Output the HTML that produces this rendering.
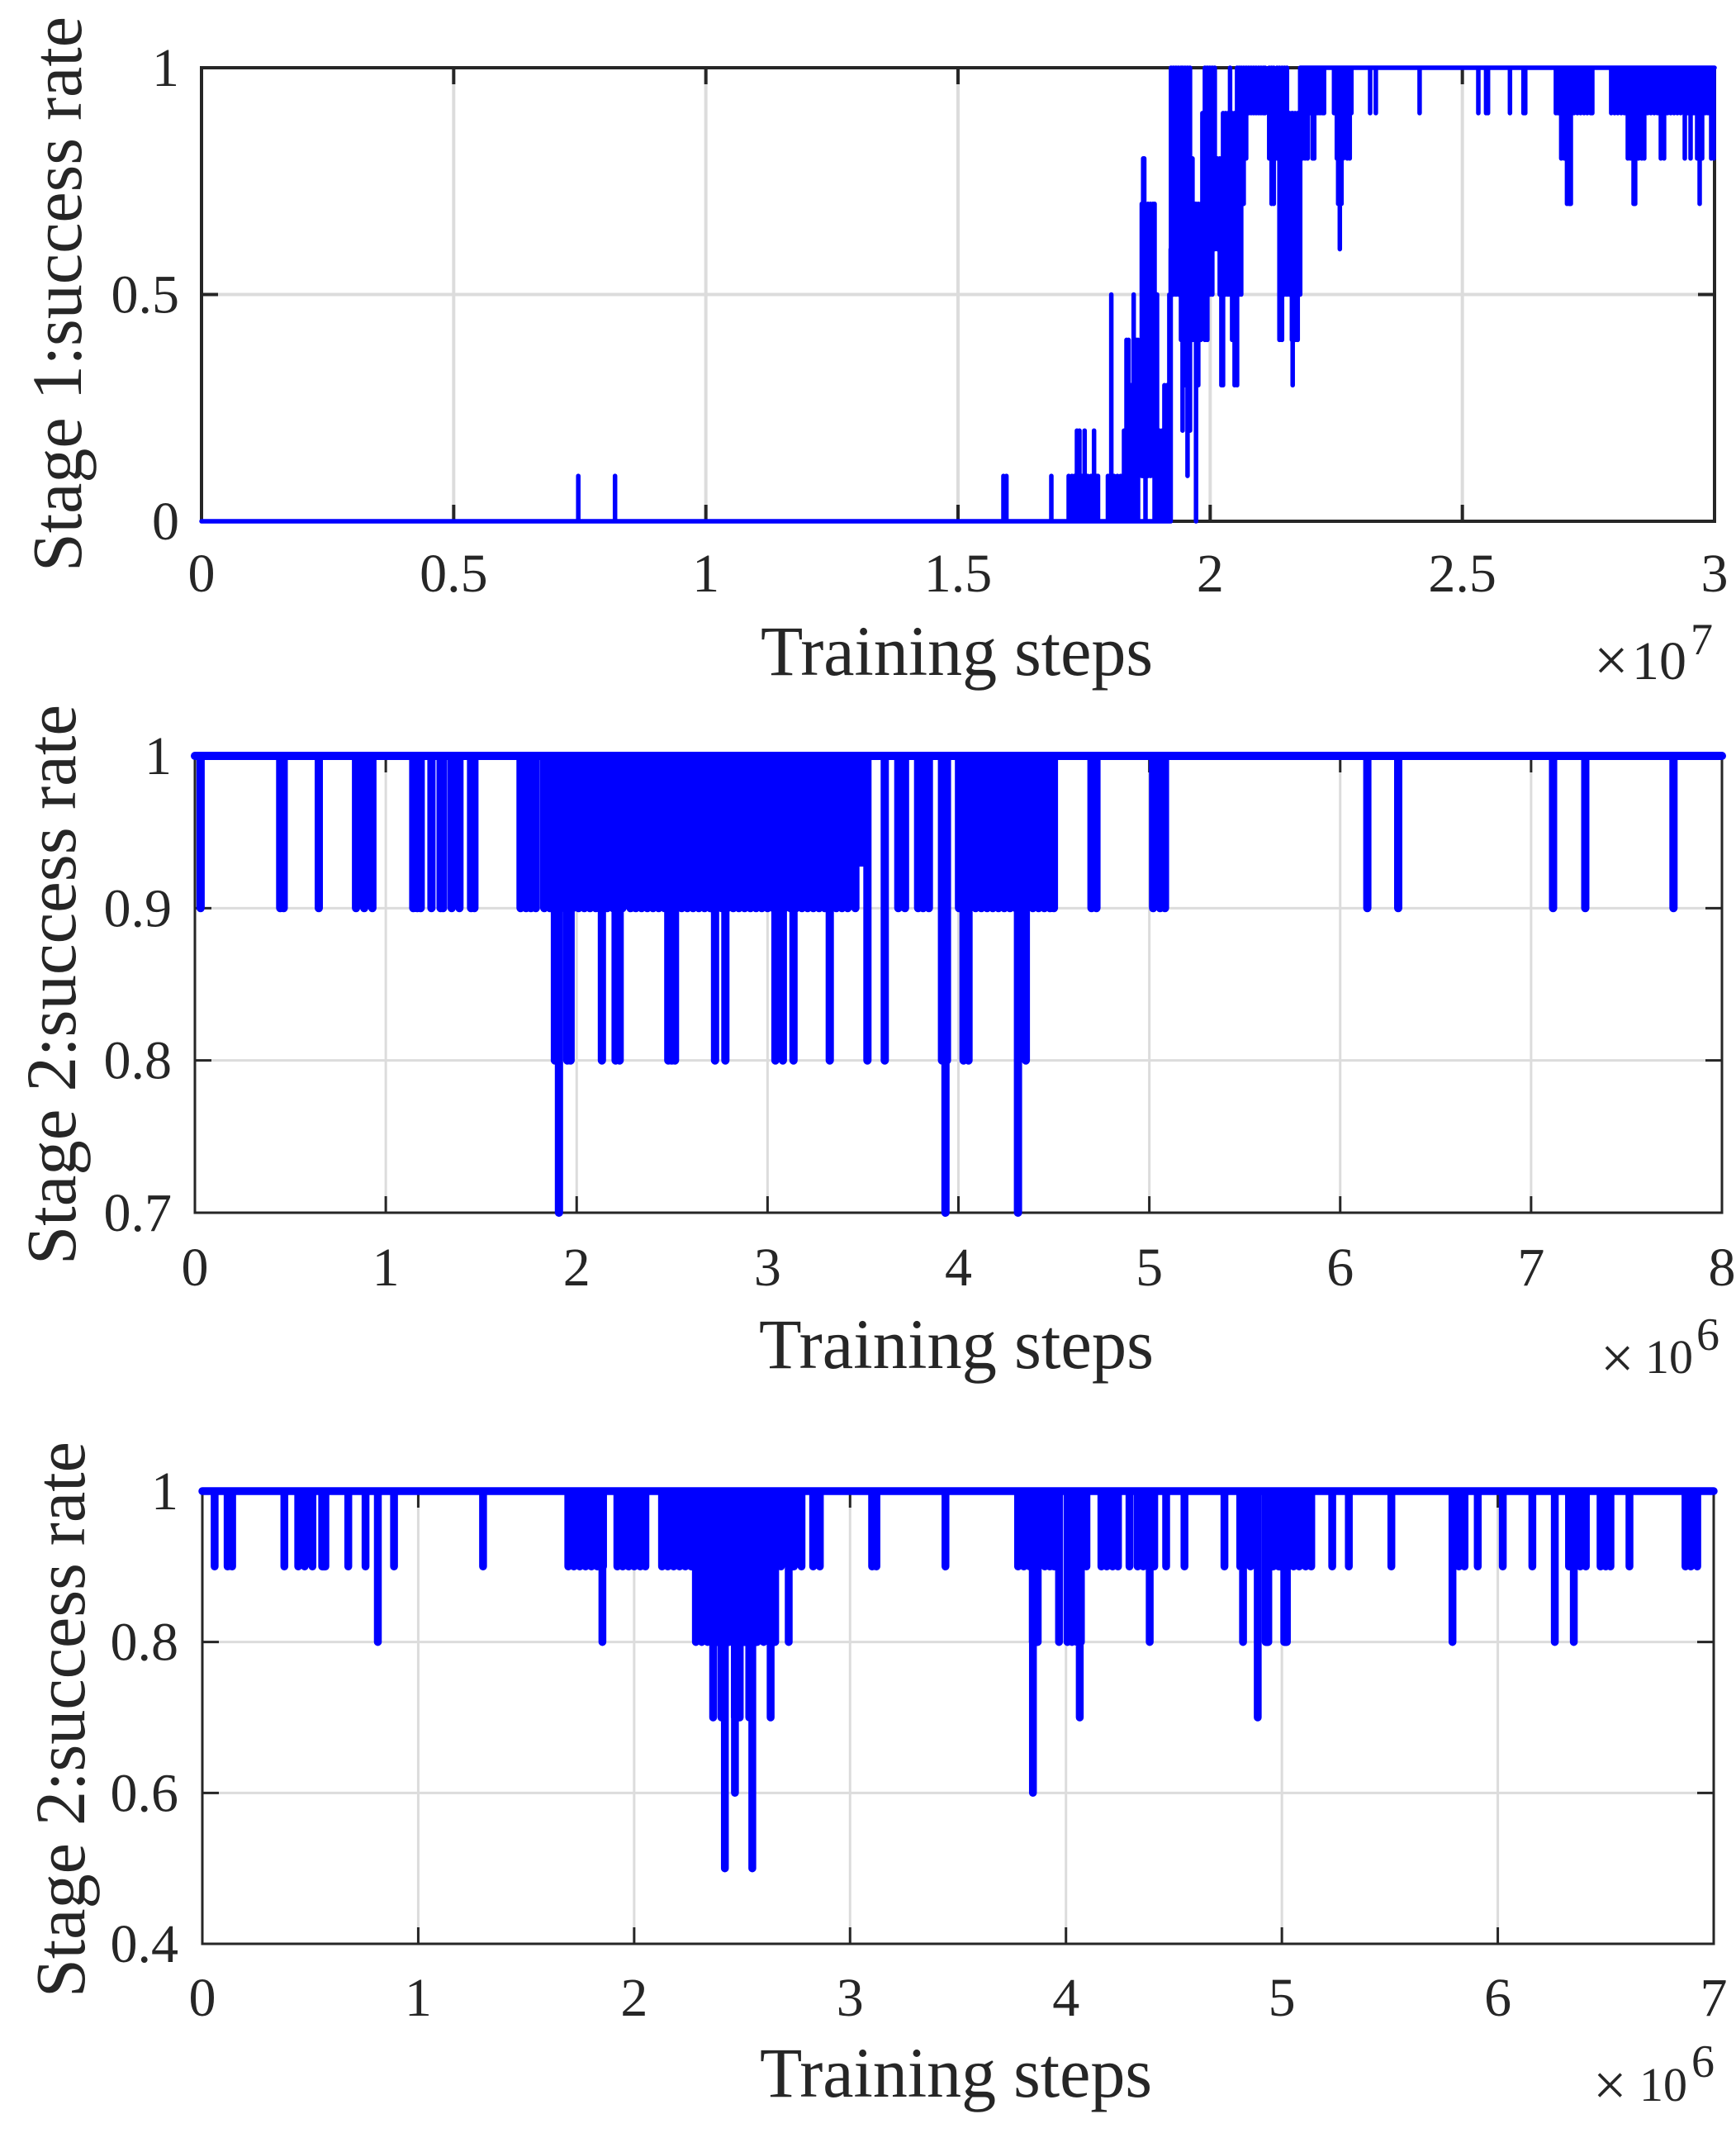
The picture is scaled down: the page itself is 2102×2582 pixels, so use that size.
<!DOCTYPE html>
<html lang="en">
<head>
<meta charset="utf-8">
<title>Stage success rate versus training steps</title>
<style>
  html, body { margin: 0; padding: 0; background: #ffffff; }
  svg { display: block; }
  text { font-family: "Liberation Serif", "Times New Roman", serif; fill: #262626; }
  .axis-title { font-size: 86px; }
  .tick-label { font-size: 66px; }
</style>
</head>
<body>
<svg id="figure" xmlns="http://www.w3.org/2000/svg" width="2102" height="2582" viewBox="0 0 2102 2582">
  <rect x="0" y="0" width="2102" height="2582" fill="#ffffff"/>

  <g id="panel-1"></g>
  <g id="panel-2"></g>
  <g id="panel-3"></g>

  <text class="axis-title" transform="translate(98,692) rotate(-90)" textLength="672" lengthAdjust="spacingAndGlyphs">Stage 1:success rate</text>
  <text class="axis-title" x="921" y="817" textLength="475" lengthAdjust="spacingAndGlyphs">Training steps</text>
  <text x="1930" y="824" font-size="74">×</text>
  <text x="1976" y="822" font-size="66">10</text>
  <text x="2047" y="792" font-size="54">7</text>

  <text class="axis-title" transform="translate(91,1531) rotate(-90)" textLength="678" lengthAdjust="spacingAndGlyphs">Stage 2:success rate</text>
  <text class="axis-title" x="919" y="1656" textLength="478" lengthAdjust="spacingAndGlyphs">Training steps</text>
  <text x="1938" y="1668" font-size="72">×</text>
  <text x="1992" y="1662" font-size="58">10</text>
  <text x="2054" y="1634" font-size="56">6</text>

  <text class="axis-title" transform="translate(102,2418) rotate(-90)" textLength="673" lengthAdjust="spacingAndGlyphs">Stage 2:success rate</text>
  <text class="axis-title" x="920" y="2538" textLength="475" lengthAdjust="spacingAndGlyphs">Training steps</text>
  <text x="1929" y="2548" font-size="72">×</text>
  <text x="1985" y="2543" font-size="58">10</text>
  <text x="2048" y="2514" font-size="56">6</text>
</svg>

<script>
// ---------- Chart 1: Stage 1 success rate (steps in units of 1e7) ----------
const chart1XTicks = [0, 0.5, 1, 1.5, 2, 2.5, 3];
const chart1XLabels = ['0', '0.5', '1', '1.5', '2', '2.5', '3'];
const chart1YTicks = [0, 0.5, 1];
const chart1YLabels = ['0', '0.5', '1'];
const chart1BaseFrom = [0, 2.18];
const chart1BaseTo = [1.92, 3];
const chart1BaseRate = [0, 1];
const chart1Steps = [
  0.747,0.82,1.59,1.596,1.685,
  1.7194,1.7259,1.7309,1.7358,1.7407,1.7456,1.751,1.7571,1.7636,1.7697,1.7751,1.7776,
  1.7972,1.804,1.8094,1.816,1.8225,1.8291,1.834,1.8381,1.8438,1.8483,1.8537,1.857,
  1.8643,1.8672,1.8692,1.8717,1.8766,1.8815,1.8864,1.8897,1.8946,1.8995,1.9044,1.9093,1.9142,1.9191,1.9216,
  1.9224,1.9273,1.9322,1.9371,1.9421,1.9453,1.9502,1.9551,1.96,1.9649,1.9698,1.972,
  1.9763,1.9813,1.9845,1.9894,1.9944,1.9993,2.0042,2.0091,2.014,2.0189,2.0222,2.0255,
  2.0304,2.0353,2.0394,2.0435,2.0484,2.0533,2.0574,2.0615,2.0664,2.0713,2.0762,2.0812,
  2.0861,2.091,2.0959,2.1008,2.1057,2.109,2.1171,2.1218,2.126,2.1325,2.1374,2.1424,
  2.1473,2.1522,2.1571,2.162,2.1636,2.1685,2.1735,2.1784,2.1833,2.1882,2.1931,2.1981,
  2.203,2.2062,2.2128,2.2177,2.2226,2.2258,2.2455,2.2512,2.2537,2.257,2.2603,2.2636,
  2.2668,2.2717,2.2767,2.28,2.3171,2.3285,2.4153,2.5316,2.547,
  2.5509,2.5943,2.6213,2.6246,2.6855,2.6904,2.6961,2.7019,2.7076,
  2.7117,2.715,2.7215,2.7281,2.7346,2.7412,2.7477,2.7543,2.7576,2.7952,2.8018,2.8083,
  2.8149,2.8214,2.828,2.8329,2.8395,2.8427,2.8493,2.8558,2.8607,2.8673,2.8738,2.8804,
  2.8869,2.8935,2.9,2.9066,2.9132,2.9197,2.9263,2.9328,2.941,2.9467,2.9525,2.959,
  2.9656,2.9705,2.9754,2.9819,2.9869,2.9934,2.9983
];
const chart1Lows = [
  0,0,0,0,0,
  0,0,0,0,0,0,0,0,0,0,0,0,
  0,0,0,0,0,0,0,0,0,0,0,0,
  .1,.1,.1,0,.1,.1,.1,0,0,0,0,0,0,0,0,
  .5,.5,.5,.5,.4,.2,.3,.1,.2,.4,.4,0,
  .3,.4,.5,.4,.4,.5,.5,.6,.6,.5,.3,.3,
  .5,.5,.5,.4,.3,.3,.5,.5,.7,.8,.9,.9,
  .9,.9,.9,.9,.9,.9,.8,.7,.7,.8,.4,.4,
  .5,.5,.5,.4,.3,.4,.4,.5,.8,.8,.8,.9,
  .8,.8,.9,.9,.9,.9,.9,.8,.7,.6,.7,.8,
  .9,.8,.8,.9,.9,.9,.9,.9,.9,
  .9,.9,.9,.9,.9,.9,.8,.8,.7,
  .7,.7,.9,.9,.9,.9,.9,.9,.9,.9,.9,.9,
  .9,.9,.8,.8,.7,.7,.8,.8,.8,.9,.9,.9,
  .9,.8,.8,.9,.9,.9,.9,.9,.8,.9,.8,.9,
  .8,.7,.8,.9,.9,.8,.8
];
const chart1Highs = [
  .1,.1,.1,.1,.1,
  .1,.1,.1,.2,.2,.1,.2,.1,.1,.2,.1,.1,
  .1,.5,.1,.1,.1,.2,.4,.4,.3,.5,.4,.4,
  .7,.8,.8,.7,.7,.7,.7,.7,.5,.2,.2,.3,.3,.5,.6,
  1,1,1,1,1,1,1,1,1,.8,.7,.7,
  .7,.7,.9,1,1,1,1,1,.8,.8,.8,.9,
  .9,.9,1,.9,.9,1,1,1,1,1,1,1,
  1,1,1,1,1,1,1,1,1,1,1,1,
  1,1,.9,.9,.9,.9,.9,1,1,1,1,1,
  1,1,1,1,1,1,1,1,1,1,1,1,
  1,1,1,1,1,1,1,1,1,
  1,1,1,1,1,1,1,1,1,
  1,1,1,1,1,1,1,1,1,1,1,1,
  1,1,1,1,1,1,1,1,1,1,1,1,
  1,1,1,1,1,1,1,1,1,1,1,1,
  1,1,1,1,1,1,1
];

// ---------- Chart 2: Stage 2 success rate, upper panel (steps in units of 1e6) ----------
const chart2XTicks = [0, 1, 2, 3, 4, 5, 6, 7, 8];
const chart2XLabels = ['0', '1', '2', '3', '4', '5', '6', '7', '8'];
const chart2YTicks = [0.7, 0.8, 0.9, 1];
const chart2YLabels = ['0.7', '0.8', '0.9', '1'];
const chart2BaseFrom = [0];
const chart2BaseTo = [8];
const chart2BaseRate = [1];
const chart2Levels = [0.93, 0.9, 0.8, 0.7];
const chart2StepsAt93 = [3.49, 3.5];
const chart2StepsAt90 = [
  0.03,0.447,0.465,0.649,0.844,0.887,0.93,1.144,1.165,1.183,1.239,1.287,1.30,1.345,1.386,1.447,1.464,
  1.706,1.735,1.76,1.786,
  1.83,1.86,1.89,1.92,1.95,1.98,2.01,2.04,2.07,2.10,2.13,2.16,2.19,2.22,2.24,
  2.282,2.31,2.34,2.37,2.40,2.43,2.46,2.49,2.52,2.55,2.58,2.61,2.64,2.67,2.70,2.73,2.76,2.79,2.82,2.85,
  2.88,2.91,2.94,2.97,3.00,3.03,3.06,3.09,3.12,3.15,3.18,3.21,3.24,3.27,3.30,3.33,3.36,3.39,3.42,3.46,
  3.685,3.72,3.789,3.815,3.845,
  4.003,4.03,4.06,4.09,4.12,4.15,4.18,4.21,4.24,4.27,4.30,4.33,4.36,4.39,4.42,4.45,4.48,4.50,
  4.697,4.723,5.02,5.056,5.082,6.142,6.304,7.115,7.284,7.746
];
const chart2StepsAt80 = [
  1.886,1.951,1.968,2.132,2.204,2.225,2.48,2.498,2.515,2.725,2.779,3.041,3.08,3.136,3.326,3.523,3.614,
  3.914,3.94,4.027,4.053,4.353
];
const chart2StepsAt70 = [1.907, 3.932, 4.312];

// ---------- Chart 3: Stage 2 success rate, lower panel (steps in units of 1e6) ----------
const chart3XTicks = [0, 1, 2, 3, 4, 5, 6, 7];
const chart3XLabels = ['0', '1', '2', '3', '4', '5', '6', '7'];
const chart3YTicks = [0.4, 0.6, 0.8, 1];
const chart3YLabels = ['0.4', '0.6', '0.8', '1'];
const chart3BaseFrom = [0];
const chart3BaseTo = [7];
const chart3BaseRate = [1];
const chart3Levels = [0.9, 0.8, 0.7, 0.6, 0.5];
const chart3StepsAt90 = [
  0.057,0.117,0.138,0.38,0.444,0.474,0.51,0.555,0.57,0.676,0.756,0.888,1.30,
  1.695,1.721,1.748,1.775,1.802,1.829,1.856,
  1.922,1.947,1.974,2.0,2.028,2.052,
  2.129,2.156,2.183,2.21,2.237,2.264,2.68,2.74,2.775,2.829,2.86,3.102,3.122,3.442,
  3.778,3.805,3.832,3.902,3.925,3.945,4.095,
  4.164,4.189,4.216,4.241,4.294,4.332,4.358,4.384,4.409,4.464,4.549,4.734,
  4.807,4.855,4.96,4.985,5.054,5.08,5.11,5.136,5.233,5.31,5.507,
  5.82,5.846,5.907,6.023,6.16,6.33,6.382,6.408,6.476,6.5,6.522,6.61,6.869,6.894,6.924
];
const chart3StepsAt80 = [
  0.813,1.853,2.286,2.313,2.34,2.385,2.44,2.51,2.57,2.6,2.653,2.716,
  3.846,3.869,3.968,4.007,4.028,4.05,4.069,4.388,4.82,4.925,4.937,5.011,5.023,
  5.79,6.264,6.352
];
const chart3StepsAt70 = [2.366,2.404,2.466,2.489,2.533,2.632,4.064,4.888];
const chart3StepsAt60 = [2.467, 3.847];
const chart3StepsAt50 = [2.42, 2.547];

const SVG_NS = 'http://www.w3.org/2000/svg';

function makeScale(domainMin, domainMax, rangeMin, rangeMax) {
  return function (value) {
    return rangeMin + (value - domainMin) / (domainMax - domainMin) * (rangeMax - rangeMin);
  };
}

function drawFrame(group, box, xScale, yScale, xTicks, xLabels, yTicks, yLabels, style) {
  const tickLength = 20;
  const gridColor = '#dcdcdc';
  const axisColor = '#262626';

  xTicks.forEach(function (tick) {
    if (tick === xTicks[0] || tick === xTicks[xTicks.length - 1]) return;
    const grid = document.createElementNS(SVG_NS, 'line');
    
    
    grid.setAttribute('x1', xScale(tick));
    grid.setAttribute('x2', xScale(tick));
    grid.setAttribute('y1', box.top);
    grid.setAttribute('y2', box.bottom);
    grid.setAttribute('stroke', gridColor);
    grid.setAttribute('stroke-width', style.gridWidth);
    group.appendChild(grid);
  });
  yTicks.forEach(function (tick) {
    if (tick === yTicks[0] || tick === yTicks[yTicks.length - 1]) return;
    const grid = document.createElementNS(SVG_NS, 'line');
    
    
    grid.setAttribute('x1', box.left);
    grid.setAttribute('x2', box.right);
    grid.setAttribute('y1', yScale(tick));
    grid.setAttribute('y2', yScale(tick));
    grid.setAttribute('stroke', gridColor);
    grid.setAttribute('stroke-width', style.gridWidth);
    group.appendChild(grid);
  });

  const frame = document.createElementNS(SVG_NS, 'rect');
  
  
  frame.setAttribute('x', box.left);
  frame.setAttribute('y', box.top);
  frame.setAttribute('width', box.right - box.left);
  frame.setAttribute('height', box.bottom - box.top);
  frame.setAttribute('fill', 'none');
  frame.setAttribute('stroke', axisColor);
  frame.setAttribute('stroke-width', style.axisWidth);
  group.appendChild(frame);

  xTicks.forEach(function (tick, i) {
    const px = xScale(tick);
    const bottomTick = document.createElementNS(SVG_NS, 'line');
    
    
    bottomTick.setAttribute('x1', px);
    bottomTick.setAttribute('x2', px);
    bottomTick.setAttribute('y1', box.bottom);
    bottomTick.setAttribute('y2', box.bottom - tickLength);
    bottomTick.setAttribute('stroke', axisColor);
    bottomTick.setAttribute('stroke-width', style.axisWidth);
    group.appendChild(bottomTick);

    const topTick = document.createElementNS(SVG_NS, 'line');
    
    
    topTick.setAttribute('x1', px);
    topTick.setAttribute('x2', px);
    topTick.setAttribute('y1', box.top);
    topTick.setAttribute('y2', box.top + tickLength);
    topTick.setAttribute('stroke', axisColor);
    topTick.setAttribute('stroke-width', style.axisWidth);
    group.appendChild(topTick);

    const label = document.createElementNS(SVG_NS, 'text');
    
    
    label.setAttribute('class', 'tick-label');
    label.setAttribute('x', px);
    label.setAttribute('y', box.xLabelBaseline);
    label.setAttribute('text-anchor', 'middle');
    label.textContent = xLabels[i];
    group.appendChild(label);
  });

  yTicks.forEach(function (tick, i) {
    const py = yScale(tick);
    const leftTick = document.createElementNS(SVG_NS, 'line');
    
    
    leftTick.setAttribute('x1', box.left);
    leftTick.setAttribute('x2', box.left + tickLength);
    leftTick.setAttribute('y1', py);
    leftTick.setAttribute('y2', py);
    leftTick.setAttribute('stroke', axisColor);
    leftTick.setAttribute('stroke-width', style.axisWidth);
    group.appendChild(leftTick);

    const rightTick = document.createElementNS(SVG_NS, 'line');
    
    
    rightTick.setAttribute('x1', box.right);
    rightTick.setAttribute('x2', box.right - tickLength);
    rightTick.setAttribute('y1', py);
    rightTick.setAttribute('y2', py);
    rightTick.setAttribute('stroke', axisColor);
    rightTick.setAttribute('stroke-width', style.axisWidth);
    group.appendChild(rightTick);

    const label = document.createElementNS(SVG_NS, 'text');
    
    
    label.setAttribute('class', 'tick-label');
    label.setAttribute('x', box.yLabelRight);
    label.setAttribute('y', py + 22);
    label.setAttribute('text-anchor', 'end');
    label.textContent = yLabels[i];
    group.appendChild(label);
  });
}

function drawPath(group, d, width, name) {
  const path = document.createElementNS(SVG_NS, 'path');
  
  
  path.setAttribute('d', d);
  path.setAttribute('fill', 'none');
  path.setAttribute('stroke', '#0000ff');
  path.setAttribute('stroke-width', width);
  path.setAttribute('stroke-linecap', 'round');
  group.appendChild(path);
}

function baselinePath(xScale, yScale, from, to, rate) {
  let d = '';
  from.forEach(function (start, i) {
    d += 'M' + xScale(start).toFixed(1) + ' ' + yScale(rate[i]).toFixed(1) +
         'L' + xScale(to[i]).toFixed(1) + ' ' + yScale(rate[i]).toFixed(1);
  });
  return d;
}

function dipsPath(xScale, yScale, steps, level, top) {
  let d = '';
  steps.forEach(function (step) {
    const px = xScale(step).toFixed(1);
    d += 'M' + px + ' ' + yScale(top).toFixed(1) + 'L' + px + ' ' + yScale(level).toFixed(1);
  });
  return d;
}

// Chart 1
(function () {
  const box = { left: 244, right: 2076, top: 82, bottom: 631, xLabelBaseline: 716, yLabelRight: 217 };
  const xScale = makeScale(0, 3, box.left, box.right);
  const yScale = makeScale(0, 1, box.bottom, box.top);
  const group = document.getElementById('panel-1');
  drawFrame(group, box, xScale, yScale, chart1XTicks, chart1XLabels, chart1YTicks, chart1YLabels, { gridWidth: 4, axisWidth: 4 });
  let d = baselinePath(xScale, yScale, chart1BaseFrom, chart1BaseTo, chart1BaseRate);
  chart1Steps.forEach(function (step, i) {
    const px = xScale(step).toFixed(1);
    d += 'M' + px + ' ' + yScale(chart1Highs[i]).toFixed(1) + 'L' + px + ' ' + yScale(chart1Lows[i]).toFixed(1);
  });
  drawPath(group, d, 5.5, 'stage-1-success-rate-line');
})();

// Chart 2
(function () {
  const box = { left: 236, right: 2085, top: 915, bottom: 1468, xLabelBaseline: 1556, yLabelRight: 208 };
  const xScale = makeScale(0, 8, box.left, box.right);
  const yScale = makeScale(0.7, 1, box.bottom, box.top);
  const group = document.getElementById('panel-2');
  drawFrame(group, box, xScale, yScale, chart2XTicks, chart2XLabels, chart2YTicks, chart2YLabels, { gridWidth: 3, axisWidth: 3 });
  let d = baselinePath(xScale, yScale, chart2BaseFrom, chart2BaseTo, chart2BaseRate);
  d += dipsPath(xScale, yScale, chart2StepsAt93, chart2Levels[0], 1);
  d += dipsPath(xScale, yScale, chart2StepsAt90, chart2Levels[1], 1);
  d += dipsPath(xScale, yScale, chart2StepsAt80, chart2Levels[2], 1);
  d += dipsPath(xScale, yScale, chart2StepsAt70, chart2Levels[3], 1);
  drawPath(group, d, 10, 'stage-2-upper-success-rate-line');
})();

// Chart 3
(function () {
  const box = { left: 245, right: 2075, top: 1805, bottom: 2353, xLabelBaseline: 2440, yLabelRight: 216 };
  const xScale = makeScale(0, 7, box.left, box.right);
  const yScale = makeScale(0.4, 1, box.bottom, box.top);
  const group = document.getElementById('panel-3');
  drawFrame(group, box, xScale, yScale, chart3XTicks, chart3XLabels, chart3YTicks, chart3YLabels, { gridWidth: 3, axisWidth: 3 });
  let d = baselinePath(xScale, yScale, chart3BaseFrom, chart3BaseTo, chart3BaseRate);
  d += dipsPath(xScale, yScale, chart3StepsAt90, chart3Levels[0], 1);
  d += dipsPath(xScale, yScale, chart3StepsAt80, chart3Levels[1], 1);
  d += dipsPath(xScale, yScale, chart3StepsAt70, chart3Levels[2], 1);
  d += dipsPath(xScale, yScale, chart3StepsAt60, chart3Levels[3], 1);
  d += dipsPath(xScale, yScale, chart3StepsAt50, chart3Levels[4], 1);
  drawPath(group, d, 9.5, 'stage-2-lower-success-rate-line');
})();
</script>
</body>
</html>
